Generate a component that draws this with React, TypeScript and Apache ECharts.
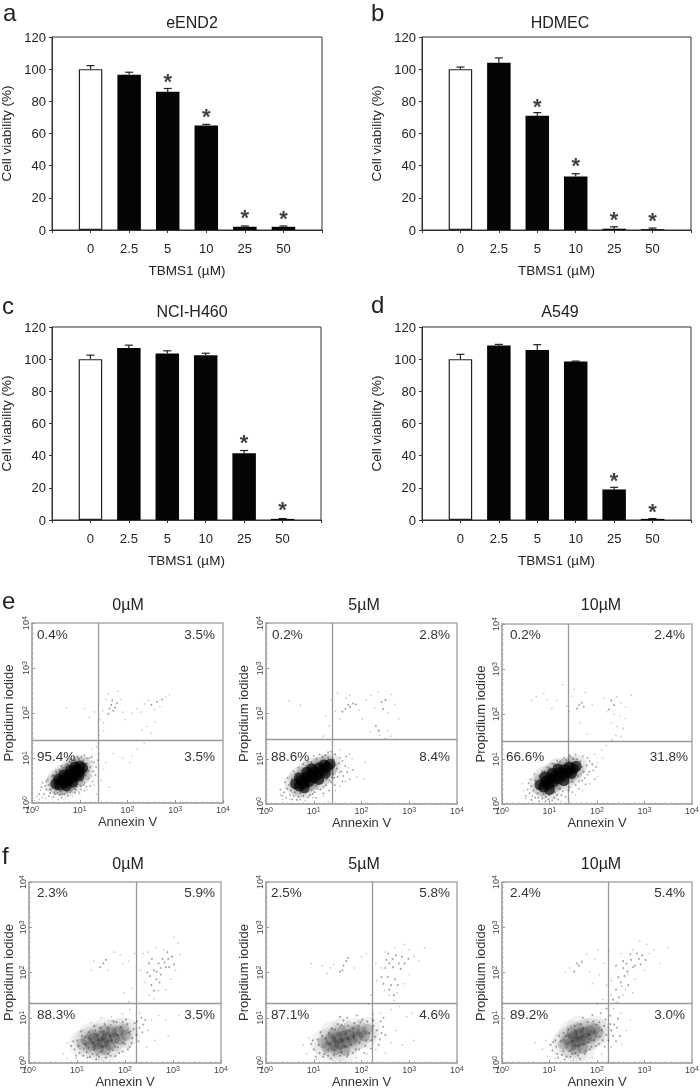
import React, { useEffect, useRef } from "react";
import * as echarts from "echarts";

const FONT = '"Liberation Sans", Arial, sans-serif';
const doseLabels = ["", "0", "2.5", "5", "10", "25", "50", ""];

const aValues = [100, 96.5, 86, 65, 2, 2];
const aErrors = [2.2, 1.6, 2, 0.7, 0.5, 0.5];
const aStars = [[3, 92.5], [4, 70.3], [5, 7.7], [6, 7.2]];
const bValues = [100, 104, 71, 33.3, 0.8, 0.5];
const bErrors = [1.3, 3, 2, 1.7, 1.2, 0.7];
const bStars = [[3, 77], [4, 40], [5, 6.6], [6, 5.6]];
const cValues = [100, 107, 103.5, 102.5, 41.5, 0.7];
const cErrors = [2.5, 1.7, 1.7, 1.2, 1.7, 0.2];
const cStars = [[5, 48], [6, 6.6]];
const dValues = [100, 108.5, 105.7, 98.5, 19, 0.7];
const dErrors = [3, 0.7, 3.3, 0.3, 1.3, 0.2];
const dStars = [[5, 24.4], [6, 5.2]];

const e0Core = [[.5,.42],[.58,.4],[.62,.5],[.68,.44],[.7,.56],[.76,.5],[.78,.62],[.84,.56],[.86,.68],[.92,.62],[.94,.74],[1,.7],[1,.82],[1.06,.78],[.55,.52],[.66,.62],[.8,.72],[.9,.8],[.72,.38],[.85,.46],[.98,.6]];
const e0Mid = [[.35,.4],[.4,.3],[.45,.5],[.5,.28],[.55,.62],[.6,.26],[.62,.7],[.7,.78],[.7,.28],[.75,.85],[.8,.35],[.82,.9],[.88,.32],[.9,.95],[.95,.42],[.98,.98],[1.05,.5],[1.08,.95],[1.12,.62],[1.15,.88],[1.18,.72],[1.2,1],[1.22,.8],[.3,.3],[.38,.22],[.25,.2],[.48,.2],[.58,.18],[.68,.2],[.8,.24],[.92,.3],[1.02,.38],[1.1,.45],[1.2,.55],[1.28,.7],[1.3,.9],[1.25,1.02],[1.1,1.06],[.95,1.02],[.8,.98],[.62,.82],[.5,.7],[.42,.6],[.3,.48],[1.62,2.1],[1.66,2.18],[1.7,2.05],[1.74,2.12],[1.6,1.98],[1.68,2.28],[1.78,2.22],[2.62,2.25],[2.72,2.3],[2.5,2.18]];
const e0Halo = [[.28,.38],[.33,.52],[.37,.3],[.41,.42],[.44,.62],[.47,.24],[.52,.66],[.53,.22],[.57,.74],[.63,.2],[.65,.78],[.72,.86],[.74,.24],[.78,.92],[.83,.28],[.87,.96],[.9,.22],[.93,.36],[1.03,.3],[1.03,1.03],[1.08,.4],[1.14,.36],[1.15,1],[1.17,.52],[1.24,.6],[1.25,.92],[1.27,.48],[1.33,.62],[1.34,.8],[1.38,.95],[.2,.35],[.22,.45],[.15,.2],[.35,.15],[.45,.14],[.62,.12],[.75,.16],[.98,.24],[1.1,.28],[1.22,.38]];
const e0Sparse = [[.05,.05],[.1,.15],[.15,.08],[.18,.28],[.22,.12],[.3,.1],[.42,.1],[.55,.08],[.7,.1],[.85,.15],[1,.2],[1.15,.3],[1.3,.4],[1.35,.2],[1.45,.5],[1.5,.75],[1.55,.9],[1.62,.35],[1.9,1],[2.05,.9],[2.1,1.05],[1.7,1.1],[1.4,1.1],[1.35,1.25],[1.25,1.2],[1.42,1.85],[1.48,2.05],[1.5,1.78],[1.55,2.3],[1.6,2.42],[1.8,2.48],[1.86,2.3],[1.9,2.02],[1.95,1.85],[1.3,2.02],[1.2,1.9],[1.1,2.1],[.72,2.12],[2.1,2],[2.2,2.1],[2.28,2.02],[2.36,2.2],[2.44,2.28],[2.56,2.08],[2.68,2.14],[2.8,2.35],[2.88,2.4],[2.3,1.62],[2.4,1.7],[2.5,1.55],[2.58,1.8],[2.2,1.2],[2.35,1.32],[1.4,1.5],[1.5,1.6]];

const e5Core = [[.62,.44],[.7,.4],[.74,.52],[.8,.46],[.84,.58],[.9,.5],[.94,.64],[1,.58],[1.02,.72],[1.08,.66],[1.12,.8],[1.18,.74],[1.22,.86],[1.28,.82],[1.34,.88],[.7,.58],[.86,.7],[.96,.78],[1.1,.54],[1.24,.68],[.8,.36]];
const e5Mid = [[.48,.42],[.52,.3],[.55,.55],[.6,.26],[.62,.66],[.72,.24],[.74,.74],[.84,.26],[.84,.84],[.95,.32],[.95,.92],[1.05,.4],[1.06,1],[1.15,.48],[1.18,1.04],[1.28,.56],[1.3,1.02],[1.4,.66],[1.42,.98],[1.48,.78],[1.52,.9],[1.38,.58],[.44,.34],[.38,.26],[.58,.18],[.68,.16],[.78,.18],[.92,.2],[1.02,.26],[1.14,.32],[1.25,.42],[1.36,.48],[1.5,.6],[1.58,.72],[1.6,.95],[1.45,1.1],[1.3,1.14],[1.72,2.19],[1.76,2.14],[1.66,2.1],[1.82,2.22],[1.6,2.04],[1.88,2.2],[2.42,2.25],[2.5,2.3],[2.45,2.1],[2.3,1.72],[2.36,1.62]];
const e5Halo = [[.4,.48],[.45,.58],[.5,.2],[.54,.38],[.58,.72],[.65,.1],[.66,.3],[.68,.8],[.76,.27],[.78,.88],[.88,.15],[.88,.94],[.98,.22],[1,1.06],[1.08,.34],[1.12,1.1],[1.2,.38],[1.24,1.08],[1.33,.52],[1.36,1.16],[1.43,.58],[1.46,.86],[1.54,.7],[1.55,1.02],[1.62,.62],[1.66,.84],[1.7,.7],[1.75,.55],[.3,.32],[.34,.18],[.42,.14],[.55,.1],[.72,.1],[1.05,.14],[1.2,.24],[1.32,.3],[1.44,.42],[1.6,.5],[1.68,1.05],[1.82,.75]];
const e5Sparse = [[.3,.2],[.35,.1],[.5,.1],[.65,.08],[.82,.08],[.98,.14],[1.2,.18],[1.3,.06],[1.45,.3],[1.55,.4],[1.66,.5],[1.72,.8],[1.8,1],[1.9,.6],[2.05,.55],[2.08,.92],[1.75,1.1],[1.55,1.2],[1.25,1.95],[1.36,2.3],[1.45,2.05],[1.5,2.45],[1.55,1.88],[1.68,2.34],[1.75,2.4],[1.95,2.08],[2.02,1.88],[2.1,2.3],[2.2,2.4],[2.28,2.12],[2.35,2.48],[2.55,2.02],[2.62,2.42],[2.7,2.2],[2.78,1.88],[2.55,1.62],[2.62,1.5],[2.5,1.45],[2.38,1.52],[2.7,1.42],[2.18,1.6],[.48,2.28],[.72,2.18],[1.2,1.5],[1.32,1.72]];

const e10Core = [[.8,.42],[.88,.38],[.92,.5],[.98,.44],[1.02,.56],[1.08,.5],[1.12,.62],[1.18,.56],[1.22,.7],[1.28,.64],[1.32,.76],[1.38,.7],[1.42,.82],[1.5,.78],[1.56,.84],[.9,.6],[1.06,.68],[1.18,.78],[1.3,.52],[1.46,.68],[1,.32]];
const e10Mid = [[.62,.4],[.66,.3],[.7,.52],[.75,.24],[.78,.62],[.88,.22],[.9,.72],[1,.2],[1,.8],[1.12,.26],[1.1,.88],[1.22,.34],[1.22,.94],[1.35,.42],[1.35,.98],[1.48,.5],[1.5,1],[1.6,.62],[1.65,.95],[1.72,.72],[1.78,.86],[.58,.24],[.7,.14],[.85,.12],[.98,.1],[1.1,.14],[1.25,.2],[1.4,.3],[1.55,.42],[1.68,.52],[1.84,.72],[1.9,.88],[1.7,1.06],[1.55,1.1],[1.42,1.08],[1.62,2.2],[1.68,2.25],[1.58,2.12],[1.72,2.16],[2.25,2.1],[2.3,2.3],[2.36,2.2]];
const e10Halo = [[.54,.32],[.56,.46],[.6,.55],[.64,.18],[.68,.66],[.72,.38],[.76,.14],[.82,.28],[.84,.74],[.92,.16],[.95,.82],[1.04,.26],[1.06,.9],[1.16,.2],[1.16,.96],[1.28,.28],[1.3,1.02],[1.42,.38],[1.44,1.04],[1.52,.58],[1.58,1],[1.62,.5],[1.68,.82],[1.74,.58],[1.8,.65],[1.85,.95],[1.92,.75],[1.98,.82],[.5,.18],[.62,.1],[.78,.06],[.92,.06],[1.06,.08],[1.18,.1],[1.34,.16],[1.48,.26],[1.62,.34],[1.76,.44],[1.95,.55],[1.8,1.02]];
const e10Sparse = [[.45,.3],[.5,.12],[.62,.08],[.42,.45],[1.25,.06],[1.4,.1],[1.55,.2],[1.7,.3],[1.85,.45],[2,.6],[2.02,.92],[1.95,1.1],[2.1,1.2],[2.2,1.3],[2.12,1.02],[2.32,1.42],[2.4,1.52],[2.5,1.5],[2.55,1.68],[2.42,1.72],[2.3,1.8],[2.6,1.9],[2.48,1.95],[2.35,2],[2.15,2.35],[2.2,2.05],[2.42,2.38],[2.5,2.25],[2.6,2.15],[2.72,2.42],[1.48,2.4],[1.52,2.55],[1.75,2.48],[1.9,2.2],[1.42,2.05],[1.36,2.18],[1.15,2.3],[1.05,2.12],[.88,2.45],[.95,2.32],[.72,2.38],[.62,2.3],[1.28,2.65],[1.65,1.8],[1.8,1.55]];

const f0Core = [[1.1,.42],[1.2,.5],[1.28,.38],[1.35,.55],[1.42,.42],[1.5,.6],[1.55,.46],[1.62,.56],[1.68,.4],[1.72,.68],[1.78,.55],[1.85,.7],[1.9,.52],[1.98,.74],[2.02,.62],[1.45,.32],[1.6,.3],[1.3,.62],[1.58,.72]];
const f0Mid = [[.88,.38],[.95,.3],[1,.5],[1.05,.22],[1.1,.6],[1.15,.3],[1.2,.24],[1.25,.68],[1.32,.2],[1.38,.72],[1.42,.18],[1.48,.78],[1.52,.26],[1.58,.86],[1.65,.2],[1.7,.84],[1.75,.28],[1.82,.9],[1.85,.35],[1.95,.9],[2,.42],[2.05,.86],[2.12,.7],[2.15,.55],[2.2,.88],[2.25,.92],[2.3,.78],[2.38,.85],[2.42,.95],[1.22,.12],[1.4,.08],[1.6,.12],[1.8,.15],[1.95,.25],[2.1,.35],[2.5,2.2],[2.6,2.05],[2.7,2.2],[2.78,2.3],[2.9,2.3],[2.98,2.35],[2.85,2.12],[2.65,1.85],[2.55,1.72],[2.75,1.95],[1.55,2.2],[1.6,2.28],[1.48,2.12]];
const f0Halo = [[.92,.48],[.98,.16],[1.03,.38],[1.08,.7],[1.13,.16],[1.17,.56],[1.24,.34],[1.27,.14],[1.33,.44],[1.36,.82],[1.44,.62],[1.46,.14],[1.54,.36],[1.56,.7],[1.6,.44],[1.64,.78],[1.7,.16],[1.72,.5],[1.76,.92],[1.8,.36],[1.84,.62],[1.88,.22],[1.92,.8],[1.96,.44],[2.02,.96],[2.06,.3],[2.08,.66],[2.14,.44],[2.18,.75],[2.24,.62],[2.28,.48],[2.34,1],[2.36,.68],[1.52,.52],[1.68,.6],[1.44,.5],[1.26,.54],[1.36,.3],[1.16,.42],[2.46,2],[2.56,2.3],[2.66,2.02],[2.74,2.1],[2.82,2.22],[2.6,1.6],[2.72,1.78],[2.92,2.12],[3.02,2.18],[2.88,2.45],[2.52,1.92]];
const f0Sparse = [[.72,.2],[.8,.45],[.8,.1],[.98,.1],[1.12,.72],[1.3,.9],[1.5,1],[1.72,1.02],[1.95,1.08],[2.1,1.18],[2.3,1.1],[2.48,.72],[2.55,.95],[2.7,1.05],[2.85,.95],[3.12,1.05],[2.62,.5],[2.45,.35],[2.9,.6],[1.3,2.05],[1.35,2.25],[1.65,2.05],[1.78,2.45],[1.9,2.38],[1.95,2.2],[2.08,2.25],[2.2,2.42],[2.32,2.05],[2.38,2.42],[2.42,1.78],[2.5,1.5],[2.6,1.42],[2.7,1.6],[2.85,1.62],[2.95,1.85],[3.05,2.05],[3.15,2.4],[3.1,2.65],[3.02,2.78],[2.8,2.5],[2.65,2.55],[2.48,2.45],[2.15,1.65],[2.08,1.35],[1.98,1.55]];

const f5Core = [[1.2,.45],[1.28,.35],[1.35,.52],[1.42,.4],[1.5,.56],[1.55,.42],[1.62,.6],[1.68,.45],[1.75,.62],[1.8,.5],[1.86,.7],[1.92,.58],[2,.68],[2.06,.6],[2.12,.74],[1.48,.3],[1.65,.28],[1.4,.64],[1.6,.72]];
const f5Mid = [[.95,.42],[1,.3],[1.08,.52],[1.12,.22],[1.18,.6],[1.22,.2],[1.3,.16],[1.32,.66],[1.42,.18],[1.45,.74],[1.55,.16],[1.58,.84],[1.7,.14],[1.72,.82],[1.82,.22],[1.85,.88],[1.95,.3],[1.98,.9],[2.08,.38],[2.12,.92],[2.2,.5],[2.25,.82],[2.32,.72],[2.4,.92],[2.45,.8],[2.5,.62],[2.38,.52],[1.55,1.02],[1.7,1],[1.9,1.05],[2.58,2.2],[2.65,2.3],[2.78,2.2],[2.85,2.35],[2.55,1.9],[2.62,1.72],[2.7,1.85],[1.62,2.15],[1.68,2.25],[1.6,2.05],[1.72,2.32],[1.55,2.02]];
const f5Halo = [[.98,.5],[1.04,.14],[1.1,.4],[1.14,.68],[1.2,.14],[1.25,.55],[1.3,.3],[1.36,.1],[1.38,.76],[1.44,.28],[1.5,.86],[1.52,.44],[1.58,.24],[1.62,.94],[1.66,.36],[1.72,.18],[1.74,.72],[1.78,.4],[1.84,.56],[1.88,.3],[1.94,.82],[1.96,.44],[2.02,.96],[2.06,.22],[2.1,.5],[2.16,.66],[2.2,.32],[2.24,.94],[2.28,.58],[2.36,.4],[2.42,.66],[2.46,1],[1.46,.52],[1.6,.5],[1.34,.42],[1.72,.54],[1.82,.76],[2.5,2.1],[2.56,2.42],[2.66,2.12],[2.72,2.38],[2.82,2.08],[2.9,2.2],[2.98,2.3],[2.46,1.75],[2.58,1.62],[2.76,1.72],[2.68,1.5],[2.52,2.28],[2.42,1.9]];
const f5Sparse = [[.78,.4],[.85,.2],[.9,.55],[1.05,.08],[1.4,.06],[1.9,.12],[2.12,.2],[2.3,.3],[2.5,.22],[2.62,.45],[2.72,.72],[2.85,.4],[2.95,1.02],[3.05,1.1],[3.1,.5],[2.62,1.18],[2.4,1.1],[2.25,1.08],[2.15,1.3],[2.2,1.5],[2.32,1.82],[2.3,2.2],[2.42,2.1],[2.5,2.45],[2.48,1.6],[2.58,1.5],[2.75,1.55],[2.9,1.75],[3,1.95],[3.1,2.35],[3,2.5],[2.9,2.62],[2.7,2.55],[3.32,2.55],[3.2,2.25],[1.35,2.1],[1.42,2.18],[1.85,2.1],[2,2.35],[2.1,2.42],[.95,2.2],[1.18,2.15],[1.28,1.98],[2.8,1.25],[2.68,1.38]];

const f10Core = [[1.3,.42],[1.38,.52],[1.45,.38],[1.5,.58],[1.56,.46],[1.62,.64],[1.68,.5],[1.74,.68],[1.78,.54],[1.85,.72],[1.9,.6],[1.96,.76],[2.02,.68],[1.55,.3],[1.7,.32],[1.46,.66],[1.62,.76]];
const f10Mid = [[1.02,.4],[1.06,.28],[1.12,.5],[1.16,.2],[1.2,.6],[1.26,.18],[1.3,.66],[1.36,.14],[1.4,.74],[1.48,.2],[1.52,.82],[1.6,.16],[1.66,.86],[1.74,.2],[1.8,.9],[1.85,.3],[1.92,.92],[1.98,.38],[2.05,.9],[2.12,.5],[2.15,.82],[2.2,.62],[2.3,.72],[2.36,.85],[2.42,.78],[2.48,.6],[1.7,1],[1.9,1.06],[2.08,1.1],[2.62,2.2],[2.72,2.28],[2.8,2.15],[2.88,2.3],[2.55,2.1],[2.95,2.38],[2.45,1.9],[2.4,2.15],[1.62,2.15],[1.68,2.24],[1.58,2.2],[1.52,2.02]];
const f10Halo = [[1.08,.46],[1.14,.36],[1.18,.12],[1.24,.48],[1.28,.26],[1.32,.08],[1.34,.6],[1.42,.26],[1.44,.14],[1.46,.8],[1.54,.22],[1.56,.7],[1.6,.38],[1.64,.1],[1.7,.76],[1.72,.42],[1.76,.26],[1.82,.46],[1.84,.62],[1.88,.36],[1.94,.5],[1.98,.84],[2.04,.42],[2.06,.58],[2.1,.72],[2.16,.36],[2.18,.96],[2.24,.5],[2.28,.86],[2.34,.6],[2.4,.48],[2.44,.98],[1.5,.48],[1.66,.56],[1.58,.62],[2.55,2.25],[2.64,2.02],[2.7,2.4],[2.76,2.12],[2.84,2.42],[2.92,2.18],[3.02,2.28],[2.5,1.78],[2.58,1.92],[2.4,1.62],[2.34,1.4],[2.46,1.45],[2.66,1.72],[2.2,1.2],[2.28,1.05]];
const f10Sparse = [[.85,.3],[.92,.5],[.95,.15],[.7,.45],[1.12,.1],[1.5,.06],[1.9,.12],[2.1,.2],[2.3,.35],[2.52,.42],[2.62,.72],[2.7,.95],[2.5,1.1],[2.35,1.2],[2.42,1.35],[2.55,1.5],[2.3,1.5],[2.2,1.72],[2.12,1.4],[2,1.3],[2.3,1.82],[2.52,1.7],[2.6,1.62],[2.75,1.55],[2.8,1.85],[2.65,1.95],[3,2.05],[3.1,2.42],[3.2,2.5],[3.05,2.62],[2.9,2.7],[2.75,2.5],[2.5,2.42],[3.5,2.55],[3.32,2.2],[2.15,2.2],[2.05,1.95],[1.95,2.3],[1.85,2.02],[1.78,2.4],[1.9,1.75],[1.32,2],[1.42,2.1],[2.25,2.48],[2.02,2.5]];

const barTitles = ["eEND2", "HDMEC", "NCI-H460", "A549"];
const flowTitles = ["0µM", "5µM", "10µM"];
const percents = [
  ["0.4%", "3.5%", "95.4%", "3.5%"], ["0.2%", "2.8%", "88.6%", "8.4%"], ["0.2%", "2.4%", "66.6%", "31.8%"],
  ["2.3%", "5.9%", "88.3%", "3.5%"], ["2.5%", "5.8%", "87.1%", "4.6%"], ["2.4%", "5.4%", "89.2%", "3.0%"],
];
const gatesX = [1.38, 1.38, 1.39, 2.23, 2.235, 2.24];
const gatesY = [1.4, 1.42, 1.4, 1.33, 1.33, 1.33];

const barGrids = [
  { left: 52, top: 37, width: 270, height: 193 },
  { left: 422, top: 37, width: 269, height: 193 },
  { left: 52, top: 327, width: 269, height: 193 },
  { left: 422, top: 327, width: 269, height: 193 },
];
const flowGrids = [
  { left: 32, top: 623, width: 191, height: 180, nameGap: 17.5 },
  { left: 266, top: 623, width: 191, height: 181, nameGap: 16.5 },
  { left: 502, top: 624, width: 190, height: 180, nameGap: 15.5 },
  { left: 29, top: 882, width: 192, height: 181, nameGap: 14.5 },
  { left: 266, top: 882, width: 191, height: 181, nameGap: 16.5 },
  { left: 502, top: 882, width: 190, height: 181, nameGap: 15.5 },
];

function buildOption() {
  const grid: any[] = [];
  const xAxis: any[] = [];
  const yAxis: any[] = [];
  const series: any[] = [];
  const graphic: any[] = [];

  const txt = (text: string, x: number, y: number, size: number, align = "left", fill = "#222") =>
    graphic.push({
      type: "text", x, y, silent: true,
      style: { text, font: `${size}px ${FONT}`, fill, align, verticalAlign: "middle" },
    });

  const barData = [[aValues, aErrors, aStars], [bValues, bErrors, bStars], [cValues, cErrors, cStars], [dValues, dErrors, dStars]] as any[];
  barData.forEach(([vals, errs, stars], i) => {
    const g = barGrids[i];
    grid.push({ left: g.left, top: g.top, width: g.width, height: g.height, outerBoundsMode: "none", show: true, borderColor: "#333", borderWidth: 1, backgroundColor: "#fff" });
    xAxis.push({
      type: "category", gridIndex: i, data: doseLabels, boundaryGap: false,
      name: "TBMS1 (µM)", nameLocation: "middle", nameGap: 33, nameMoveOverlap: false,
      nameTextStyle: { fontFamily: FONT, fontSize: 13.5, color: "#222" },
      axisLine: { lineStyle: { color: "#333", width: 1 } },
      axisTick: { length: 3, lineStyle: { color: "#333" } },
      axisLabel: { interval: 0, fontFamily: FONT, fontSize: 13, color: "#222", margin: 12 },
      splitLine: { show: false },
    });
    yAxis.push({
      type: "value", gridIndex: i, min: 0, max: 120, interval: 20,
      name: "Cell viability (%)", nameLocation: "middle", nameGap: 38.5, nameMoveOverlap: false,
      nameTextStyle: { fontFamily: FONT, fontSize: 13.5, color: "#222" },
      axisLine: { show: true, lineStyle: { color: "#333", width: 1 } },
      axisTick: { show: true, length: 3, lineStyle: { color: "#333" } },
      axisLabel: { fontFamily: FONT, fontSize: 13, color: "#222", margin: 6 },
      splitLine: { show: false },
    });
    series.push({
      type: "bar", xAxisIndex: i, yAxisIndex: i, barWidth: 23.5, z: 2,
      data: vals.map((v: number, k: number) => ({
        value: [k + 1, v],
        itemStyle: k === 0
          ? { color: "#fff", borderColor: "#222", borderWidth: 1.2 }
          : { color: "#050505", borderColor: "#050505", borderWidth: 0 },
      })),
    });
    series.push({
      type: "custom", xAxisIndex: i, yAxisIndex: i, z: 1, clip: false,
      data: vals.map((v: number, k: number) => [k + 1, v, v + errs[k]]),
      encode: { x: 0, y: [1, 2] },
      renderItem: (_: any, api: any) => {
        const base = api.coord([api.value(0), api.value(1)]);
        const top = api.coord([api.value(0), api.value(2)]);
        const s = { stroke: "#222", lineWidth: 1.2 };
        return {
          type: "group",
          children: [
            { type: "line", shape: { x1: base[0], y1: base[1], x2: top[0], y2: top[1] }, style: s },
            { type: "line", shape: { x1: top[0] - 4, y1: top[1], x2: top[0] + 4, y2: top[1] }, style: s },
          ],
        };
      },
    });
    series.push({
      type: "scatter", xAxisIndex: i, yAxisIndex: i, symbolSize: 1, z: 3,
      itemStyle: { color: "transparent" },
      data: stars,
      label: {
        show: true, position: "inside", formatter: "*", offset: [0, 0],
        fontFamily: FONT, fontSize: 22, fontWeight: "bold", color: "#111",
      },
    });
  });

  const tickRich = {
    b: { fontFamily: FONT, fontSize: 9, color: "#444", lineHeight: 9, verticalAlign: "bottom" },
    s: { fontFamily: FONT, fontSize: 7, color: "#444", lineHeight: 9, verticalAlign: "top" },
  };
  const flowData = [
    [e0Core, e0Mid, e0Halo, e0Sparse], [e5Core, e5Mid, e5Halo, e5Sparse], [e10Core, e10Mid, e10Halo, e10Sparse],
    [f0Core, f0Mid, f0Halo, f0Sparse], [f5Core, f5Mid, f5Halo, f5Sparse], [f10Core, f10Mid, f10Halo, f10Sparse],
  ];
  flowData.forEach(([core, mid, halo, sparse], j) => {
    const i = j + 4;
    const g = flowGrids[j];
    const isF = j >= 3;
    grid.push({ left: g.left, top: g.top, width: g.width, height: g.height, outerBoundsMode: "none", show: true, borderColor: "#aaa", borderWidth: 1.5, backgroundColor: "#fff" });
    const common = {
      gridIndex: i, type: "value", min: 0, max: 4, interval: 1,
      axisLine: { show: true, lineStyle: { color: "#aaa", width: 1.5 } },
      axisTick: { show: true, inside: true, length: 3, lineStyle: { color: "#999" } },
      minorTick: { show: true, splitNumber: 9, length: 1.5, lineStyle: { color: "#aaa" } },
      splitLine: { show: false },
      nameLocation: "middle",
      nameMoveOverlap: false,
      nameTextStyle: { fontFamily: FONT, fontSize: 13, color: "#333" },
    };
    xAxis.push({
      ...common, name: "Annexin V", nameGap: 12,
      axisLabel: { formatter: (v: number) => `{b|10}{s|${v}}`, rich: tickRich, margin: 2, showMinLabel: true, showMaxLabel: true },
    });
    yAxis.push({
      ...common, name: "Propidium iodide", nameGap: g.nameGap,
      axisLabel: { formatter: (v: number) => `{b|10}{s|${v}}`, rich: tickRich, rotate: 90, margin: 2, showMinLabel: true, showMaxLabel: true },
    });
    series.push({
      type: "scatter", xAxisIndex: i, yAxisIndex: i, data: sparse, symbolSize: 1.4, z: 2,
      itemStyle: { color: "#777", opacity: 0.5 },
      markLine: {
        silent: true, symbol: "none", label: { show: false }, animation: false, z: 1,
        lineStyle: { color: "#999", width: 1.3, type: "solid" },
        data: [{ xAxis: gatesX[j] }, { yAxis: gatesY[j] }],
      },
    });
    series.push({
      type: "scatter", xAxisIndex: i, yAxisIndex: i, data: core, symbolSize: isF ? 26 : 22, z: 3,
      itemStyle: { color: "#000", opacity: isF ? 0.05 : 0.09 },
    });
    series.push({
      type: "scatter", xAxisIndex: i, yAxisIndex: i, data: core, symbolSize: 11, z: 3,
      itemStyle: { color: "#000", opacity: isF ? 0.15 : 0.65 },
    });
    series.push({
      type: "scatter", xAxisIndex: i, yAxisIndex: i, data: halo, symbolSize: isF ? 1.9 : 1.7, z: 4,
      itemStyle: { color: "#333", opacity: 0.45 },
    });
    series.push({
      type: "scatter", xAxisIndex: i, yAxisIndex: i, data: mid, symbolSize: 1.9, z: 5,
      itemStyle: { color: "#333", opacity: 0.45 },
    });
  });

  // Panel letters
  txt("a", 3, 12, 24); txt("b", 371, 12, 24); txt("c", 2, 305, 24); txt("d", 371, 304, 24);
  txt("e", 2, 600, 24); txt("f", 2, 855, 24);
  // Titles
  barTitles.forEach((t, i) => txt(t, i % 2 ? 560 : 192, i < 2 ? 22 : 311, 16, "center"));
  [128, 364, 601, 128, 364, 601].forEach((x, i) => txt(flowTitles[i % 3], x, i < 3 ? 604 : 863, 16, "center"));
  // Quadrant percentages
  const leftsTop = [37, 272, 510, 37, 271, 510];
  const leftsBot = [37, 271, 506, 37, 271, 510];
  const rightsTop = [215, 450, 685, 215, 450, 685];
  const rightsBot = [215, 450, 688, 215, 450, 685];
  percents.forEach((p, i) => {
    const yt = i < 3 ? 634 : 892;
    const yb = i < 3 ? 756 : 1014;
    txt(p[0], leftsTop[i], yt, 13.5, "left", "#333");
    txt(p[1], rightsTop[i], yt, 13.5, "right", "#333");
    txt(p[2], leftsBot[i], yb, 13.5, "left", "#333");
    txt(p[3], rightsBot[i], yb, 13.5, "right", "#333");
  });

  return { animation: false, backgroundColor: "#fff", grid, xAxis, yAxis, series, graphic };
}

export default function App() {
  const ref = useRef<HTMLDivElement>(null);
  useEffect(() => {
    document.body.style.margin = "0";
    const chart = echarts.init(ref.current!, undefined, { renderer: "svg" });
    chart.setOption(buildOption() as any);
    return () => chart.dispose();
  }, []);
  return <div ref={ref} style={{ width: 700, height: 1088, filter: "blur(0.35px)" }} />;
}
